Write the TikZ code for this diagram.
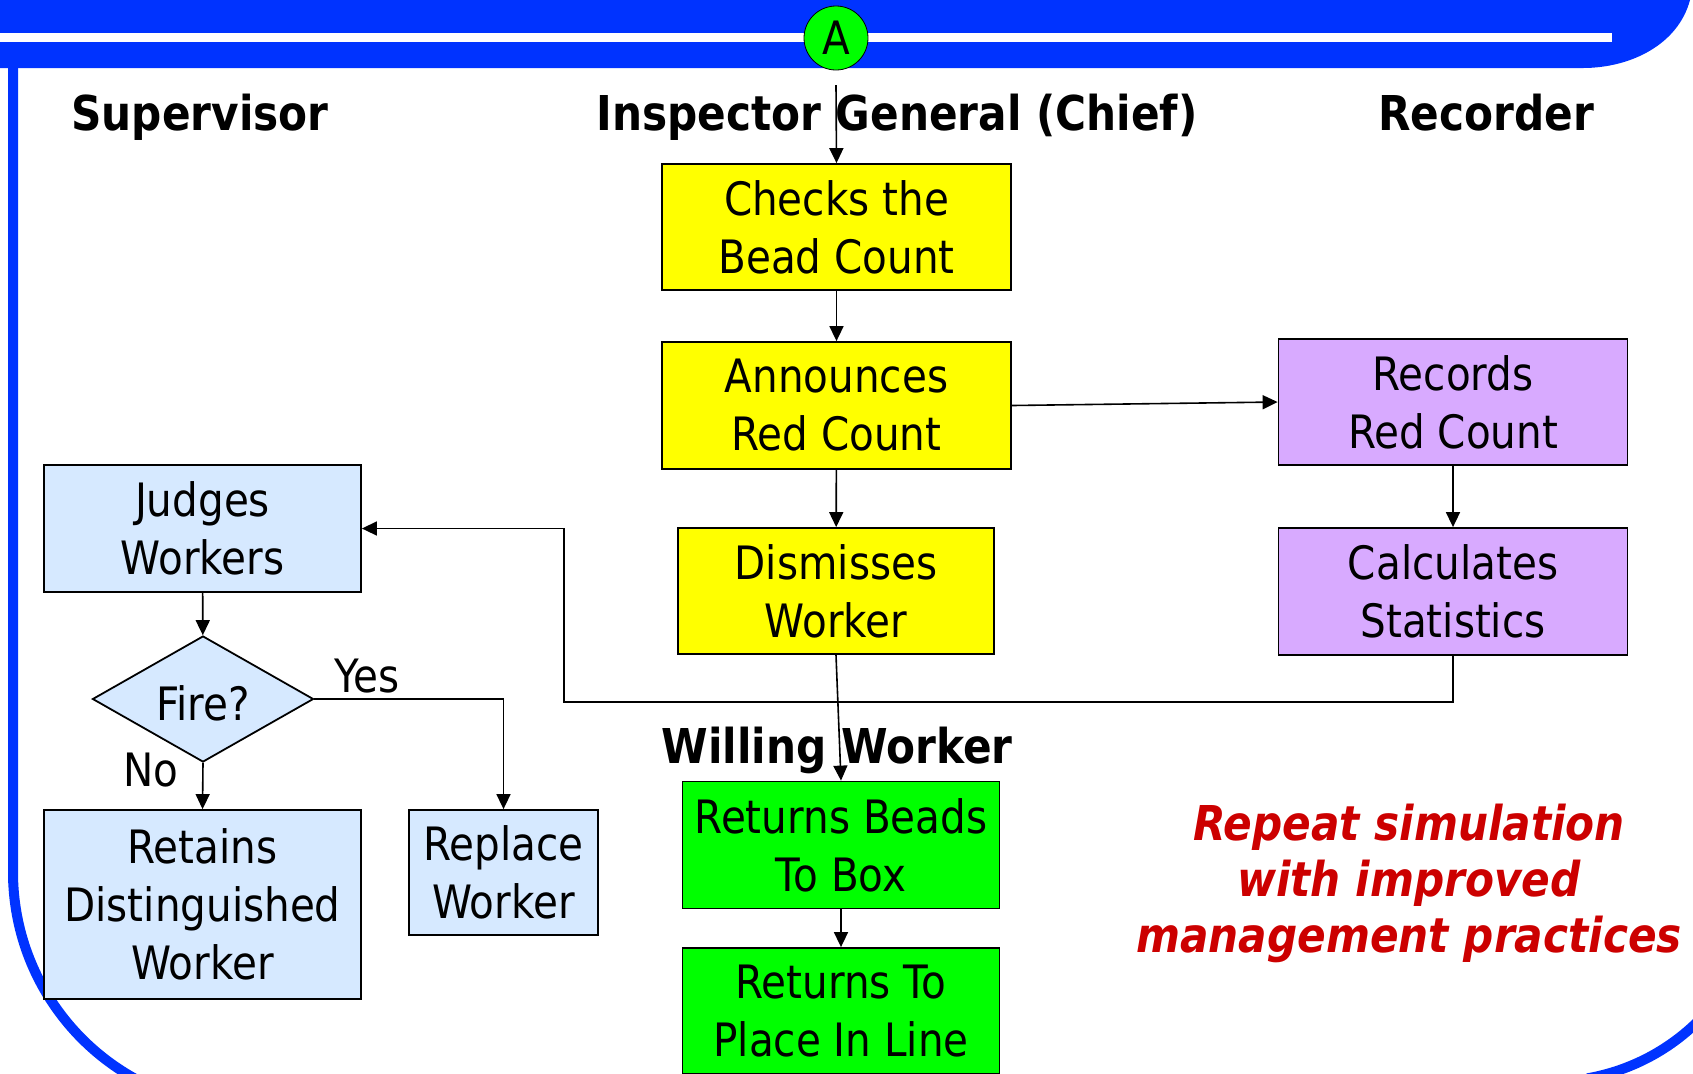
\documentclass[tikz,border=0pt]{standalone}
\usepackage{fontspec}
\setmainfont{DejaVu Sans}[FakeStretch=0.88]
\usetikzlibrary{shapes.geometric,arrows.meta}
\definecolor{frameblue}{RGB}{0,51,255}
\definecolor{boxyellow}{RGB}{255,255,0}
\definecolor{boxlilac}{RGB}{216,170,255}
\definecolor{boxblue}{RGB}{214,233,255}
\definecolor{boxgreen}{RGB}{0,255,0}
\definecolor{textred}{RGB}{204,0,0}
\begin{document}
\begin{tikzpicture}[x=0.5pt,y=-0.5pt,
  box/.style={draw,line width=0.9pt,align=center,inner sep=0pt,font=\fontsize{23}{29}\selectfont,
    execute at begin node=\rule{0pt}{22pt}},
  wh/.style 2 args={minimum width=#1*0.5pt,minimum height=#2*0.5pt},
  lane/.style={font=\fontsize{24}{28}\selectfont\bfseries,anchor=base},
  arr/.style={-{Triangle[length=7.5pt,width=7pt]},line width=0.8pt},
  plain/.style={font=\fontsize{23}{27}\selectfont}]
\useasboundingbox (0,0) rectangle (1693,1073);

\fill[frameblue] (0,0) -- (1690,0) .. controls (1678,45) and (1630,68) .. (1583,68) -- (0,68) -- cycle;
\fill[white] (0,33) rectangle (1612,42);
\draw[frameblue,line width=5pt] (13,60) -- (13,872) arc[start angle=180,end angle=100,radius=236];
\draw[frameblue,line width=5pt] (1760.5,60) -- (1760.5,872) arc[start angle=0,end angle=80,radius=209.5];

\node[circle,draw,fill=boxgreen,minimum size=32pt,inner sep=0pt,plain] (A) at (836,38) {A};
\coordinate (astart) at (836,85);

\node[lane] (super) at (200,130) {Supervisor};
\node[lane] (chief) at (897,130) {Inspector General (Chief)};
\node[lane] (rec) at (1486,130) {Recorder};
\node[lane] (willing) at (837,763) {Willing Worker};

\node[box,fill=boxyellow,wh={349}{126}] (checks) at (836.5,227) {Checks the\\Bead Count};
\node[box,fill=boxyellow,wh={349}{127}] (announce) at (836.5,405.5) {Announces\\Red Count};
\node[box,fill=boxyellow,wh={316}{126}] (dismiss) at (836,591) {Dismisses\\Worker};
\node[box,fill=boxlilac,wh={349}{126}] (records) at (1453,402) {Records\\Red Count};
\node[box,fill=boxlilac,wh={349}{127}] (calc) at (1453,591.5) {Calculates\\Statistics};
\node[box,fill=boxblue,wh={317}{127}] (judges) at (202.5,528.5) {Judges\\Workers};
\node[box,diamond,aspect=1.75,fill=boxblue,wh={221}{126},execute at begin node={}] (fire) at (203,699) {Fire?};
\node[box,fill=boxblue,wh={317}{189}] (retains) at (202.5,904.5) {Retains\\Distinguished\\Worker};
\node[box,fill=boxblue,wh={189}{125}] (replace) at (503.5,872.5) {Replace\\Worker};
\node[box,fill=boxgreen,wh={317}{127}] (beads) at (841,845) {Returns Beads\\To Box};
\node[box,fill=boxgreen,wh={317}{126}] (place) at (841,1011) {Returns To\\Place In Line};

\node[plain] (yes) at (367,676) {Yes};
\node[plain] (no) at (151,770) {No};
\node[align=center,text=textred,font=\fontsize{24}{28}\selectfont\bfseries\itshape] (repeat) at (1409,883)
  {Repeat simulation\\with improved\\management practices};

\coordinate (loop) at (564,702);
\draw[arr] (astart) -- (checks.north);
\draw[arr] (checks) -- (announce);
\draw[arr] (announce.east) -- (records.west);
\draw[arr] (announce) -- (dismiss);
\draw[arr] (records) -- (calc);
\draw[arr] (calc.south) |- (loop) |- (judges.east);
\draw[arr] (dismiss.south) -- (beads.north);
\draw[arr] (beads) -- (place);
\draw[arr] (judges) -- (fire);
\draw[arr] (fire.south) -- (retains.north);
\draw[arr] (fire.east) -| (replace.north);
\end{tikzpicture}
\end{document}
